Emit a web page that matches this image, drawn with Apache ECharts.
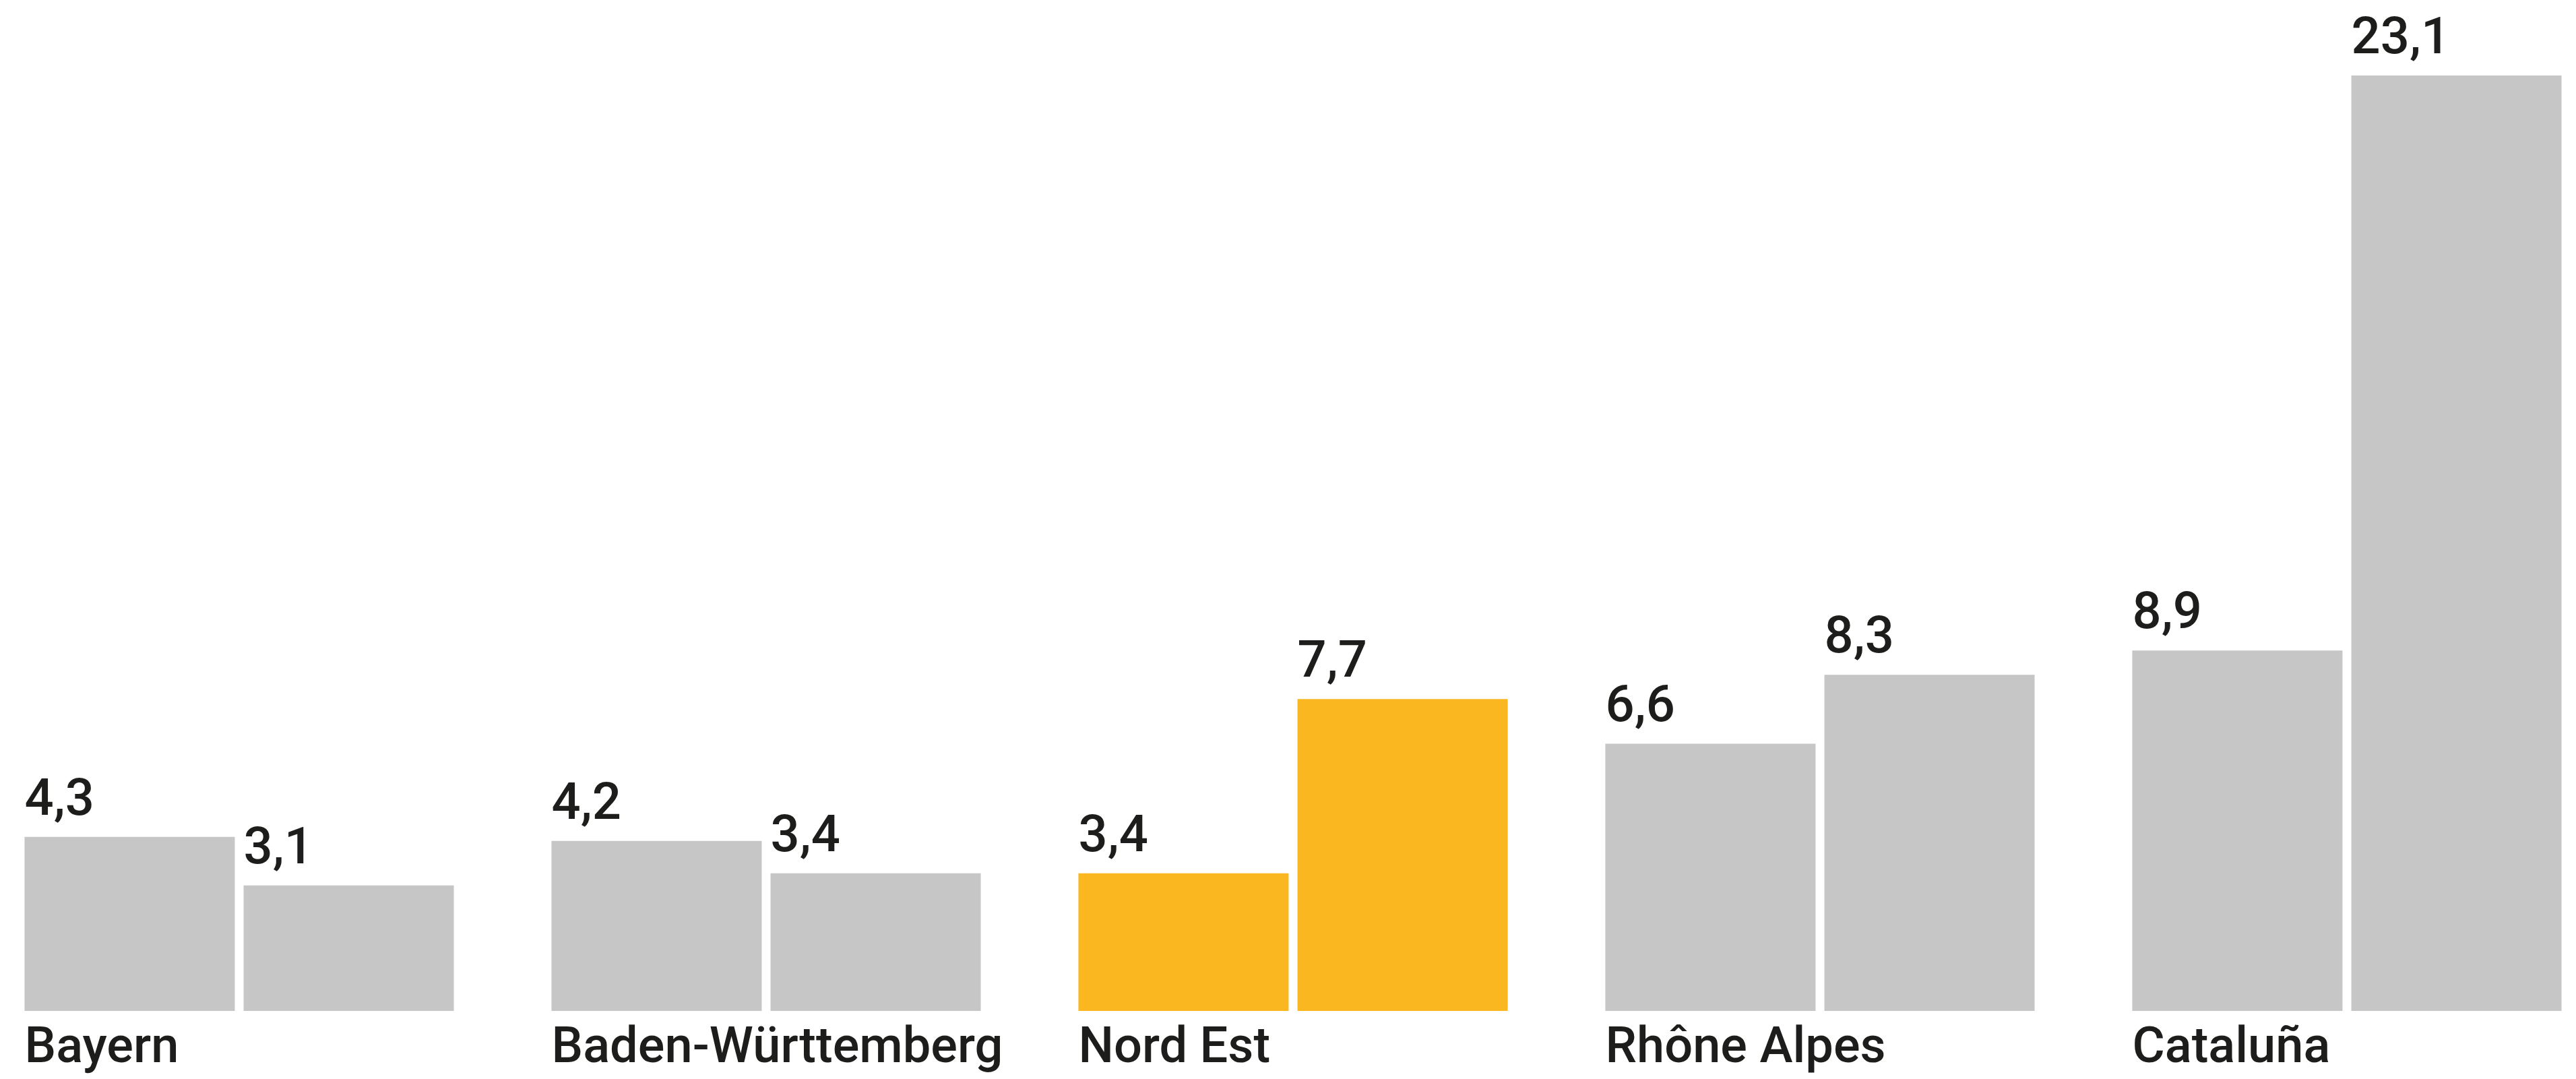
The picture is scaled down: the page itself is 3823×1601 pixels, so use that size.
<!DOCTYPE html>
<html>
<head>
<meta charset="utf-8">
<style>
  html, body { margin: 0; padding: 0; background: #ffffff; }
  #chart { width: 3823px; height: 1601px; }
</style>
<script src="https://cdn.jsdelivr.net/npm/echarts@6/dist/echarts.min.js"></script>
</head>
<body>
<div id="chart"></div>
<script>
const categories = ['Bayern', 'Baden-Württemberg', 'Nord Est', 'Rhône Alpes', 'Cataluña'];
const seriesA = [4.3, 4.2, 3.4, 6.6, 8.9];
const seriesB = [3.1, 3.4, 7.7, 8.3, 23.1];
const highlighted = ['Nord Est'];

const GRAY = '#c6c6c6';
const YELLOW = '#fab71f';
const TEXT = '#1d1d1b';
const FONT = 'Roboto';

function itemsFor(values) {
  return values.map((v, i) => ({
    value: v,
    itemStyle: { color: highlighted.includes(categories[i]) ? YELLOW : GRAY }
  }));
}

const valueLabel = {
  show: true,
  position: [0, 0],
  align: 'left',
  verticalAlign: 'bottom',
  offset: [0, -14],
  fontFamily: FONT,
  fontWeight: 500,
  fontSize: 76,
  lineHeight: 76,
  color: TEXT,
  formatter: p => String(p.value).replace('.', ',')
};

const chart = echarts.init(document.getElementById('chart'), null, { renderer: 'canvas' });
chart.setOption({
  backgroundColor: '#ffffff',
  animation: false,
  grid: { left: -36, width: 3910, top: 58, bottom: 101, containLabel: false, outerBoundsMode: 'none' },
  xAxis: {
    type: 'category',
    data: categories,
    axisLine: { show: false },
    axisTick: { show: false },
    splitLine: { show: false },
    axisLabel: {
      interval: 0,
      margin: 20,
      align: 'center',
      verticalAlign: 'top',
      hideOverlap: false,
      formatter: v => '{a|' + v + '}',
      rich: {
        a: {
          width: 637,
          align: 'left',
          fontFamily: FONT,
          fontWeight: 500,
          fontSize: 74,
          lineHeight: 74,
          color: TEXT
        }
      }
    }
  },
  yAxis: {
    type: 'value',
    min: 0,
    max: 24,
    show: false,
    splitLine: { show: false }
  },
  series: [
    {
      type: 'bar',
      data: itemsFor(seriesA),
      barWidth: 312,
      barGap: '4.2%',
      label: valueLabel
    },
    {
      type: 'bar',
      data: itemsFor(seriesB),
      barWidth: 312,
      barGap: '4.2%',
      label: valueLabel
    }
  ]
});
</script>
</body>
</html>
